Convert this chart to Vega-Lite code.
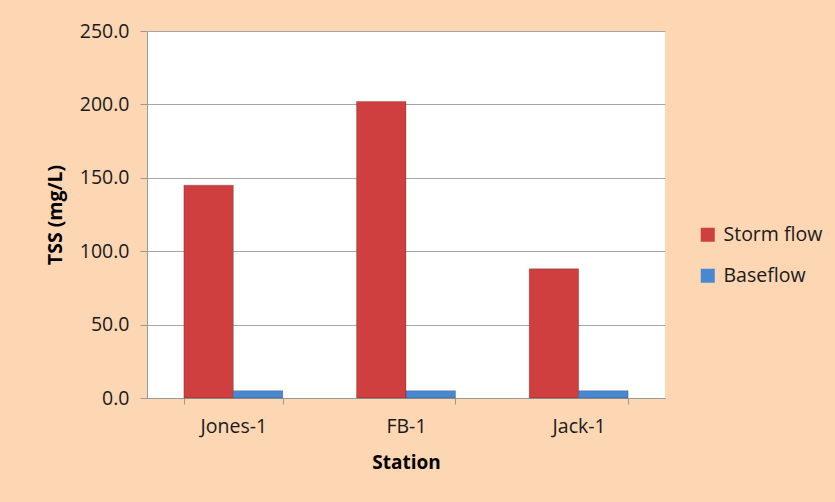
{
  "$schema": "https://vega.github.io/schema/vega-lite/v6.json",
  "width": 518,
  "height": 367,
  "autosize": {"type": "none"},
  "padding": {"left": 147, "top": 31, "right": 170, "bottom": 104},
  "background": "#fdd6b4",
  "data": {
    "values": [
      {"station": "Jones-1", "series": "Storm flow", "tss": 145},
      {"station": "Jones-1", "series": "Baseflow", "tss": 5},
      {"station": "FB-1", "series": "Storm flow", "tss": 202},
      {"station": "FB-1", "series": "Baseflow", "tss": 5},
      {"station": "Jack-1", "series": "Storm flow", "tss": 88},
      {"station": "Jack-1", "series": "Baseflow", "tss": 5}
    ]
  },
  "config": {
    "font": "Open Sans",
    "view": {"fill": "white", "stroke": null},
    "axis": {"labelFont": "Open Sans", "titleFont": "Open Sans", "labelColor": "#1a1a1a", "titleColor": "#000"}
  },
  "mark": {"type": "bar", "stroke": "#00000033", "strokeWidth": 1},
  "encoding": {
    "x": {
      "field": "station",
      "type": "nominal",
      "sort": ["Jones-1", "FB-1", "Jack-1"],
      "scale": {"paddingInner": 0.427, "paddingOuter": 0.2135},
      "axis": {
        "title": "Station",
        "titleFontSize": 19,
        "titleFontWeight": "bold",
        "titlePadding": 18,
        "labelFontSize": 19.5,
        "labelAngle": 0,
        "labelPadding": 13,
        "tickBand": "extent",
        "tickSize": 6,
        "tickColor": "#999",
        "domainColor": "#999"
      }
    },
    "xOffset": {"field": "series", "type": "nominal", "sort": ["Storm flow", "Baseflow"]},
    "y": {
      "field": "tss",
      "type": "quantitative",
      "scale": {"domain": [0, 250]},
      "axis": {
        "title": "TSS (mg/L)",
        "titleFontSize": 19.5,
        "titleFontWeight": "bold",
        "titlePadding": 14,
        "labelFontSize": 19.5,
        "format": ".1f",
        "values": [0, 50, 100, 150, 200, 250],
        "tickSize": 7,
        "labelPadding": 11,
        "tickColor": "#999",
        "domainColor": "#999",
        "gridColor": "#a6a6a6",
        "gridWidth": 1
      }
    },
    "color": {
      "field": "series",
      "type": "nominal",
      "sort": ["Storm flow", "Baseflow"],
      "scale": {"domain": ["Storm flow", "Baseflow"], "range": ["#cf3f3f", "#4a87d2"]},
      "legend": {
        "title": null,
        "orient": "none",
        "legendX": 551,
        "legendY": 194,
        "symbolType": "square",
        "symbolSize": 196,
        "symbolStrokeWidth": 0,
        "labelFontSize": 19.5,
        "labelFont": "Open Sans",
        "labelColor": "#1a1a1a",
        "rowPadding": 20,
        "labelOffset": 6
      }
    }
  }
}
